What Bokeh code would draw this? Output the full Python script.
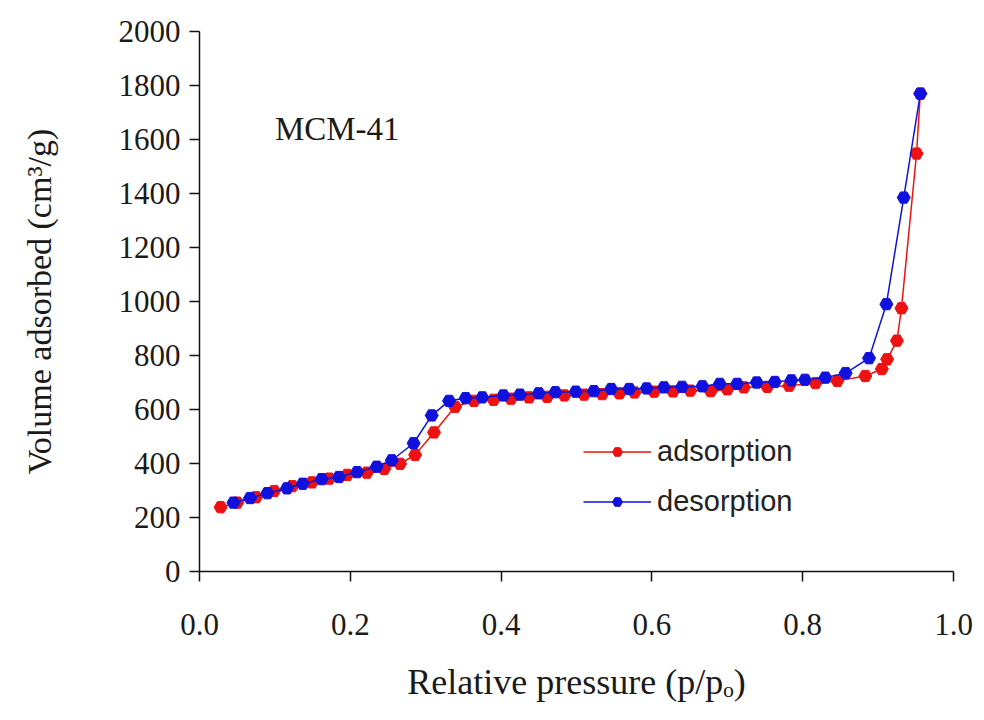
from bokeh.plotting import figure
from bokeh.models import Range1d, FixedTicker, Legend, LegendItem, Label
from bokeh.embed import file_html
from bokeh.resources import INLINE

# Adsorption branch (red)
ads_p = [0.028, 0.050, 0.075, 0.099, 0.123, 0.149, 0.172, 0.196, 0.222, 0.245,
         0.266, 0.286, 0.311, 0.339, 0.364, 0.390, 0.413, 0.437, 0.461, 0.484,
         0.510, 0.534, 0.557, 0.577, 0.603, 0.628, 0.651, 0.678, 0.700, 0.722,
         0.753, 0.782, 0.817, 0.846, 0.883, 0.905, 0.912, 0.925, 0.931, 0.951, 0.956]
ads_v = [238, 255, 275, 298, 316, 330, 344, 358, 366, 380,
         399, 432, 515, 610, 632, 636, 640, 645, 647, 652,
         655, 657, 660, 663, 666, 667, 670, 668, 675, 682,
         684, 688, 698, 706, 724, 750, 786, 855, 975, 1548, 1770]

# Desorption branch (blue)
des_p = [0.956, 0.934, 0.911, 0.888, 0.857, 0.830, 0.803, 0.785, 0.763, 0.739,
         0.713, 0.690, 0.667, 0.640, 0.616, 0.593, 0.570, 0.546, 0.523, 0.499,
         0.472, 0.450, 0.425, 0.403, 0.375, 0.353, 0.331, 0.308, 0.284, 0.255,
         0.235, 0.209, 0.185, 0.162, 0.137, 0.116, 0.090, 0.067, 0.045]
des_v = [1770, 1385, 990, 790, 735, 718, 710, 708, 702, 700,
         695, 695, 686, 684, 682, 678, 676, 676, 668, 666,
         664, 660, 655, 652, 645, 642, 632, 578, 475, 412,
         388, 368, 350, 342, 325, 308, 290, 272, 255]

x_ticks = [0.0, 0.2, 0.4, 0.6, 0.8, 1.0]
y_ticks = [0, 200, 400, 600, 800, 1000, 1200, 1400, 1600, 1800, 2000]

RED = "#ee1111"
BLUE = "#1111dd"
SERIF = "Liberation Serif"
SANS = "Liberation Sans"

p = figure(width=984, height=720, output_backend="svg", toolbar_location=None,
           x_range=Range1d(0, 1.0), y_range=Range1d(0, 2000),
           min_border_left=199, min_border_right=31, min_border_top=31,
           min_border_bottom=149)
p.outline_line_color = None
p.xgrid.visible = False
p.ygrid.visible = False
p.background_fill_color = "white"
p.border_fill_color = "white"

for ax in (p.xaxis[0], p.yaxis[0]):
    ax.axis_line_color = "#111111"
    ax.axis_line_width = 1.5
    ax.major_tick_line_color = "#111111"
    ax.major_tick_line_width = 1.5
    ax.major_tick_in = 0
    ax.major_tick_out = 10
    ax.minor_tick_line_color = None
    ax.major_label_text_font = SERIF
    ax.major_label_text_font_size = "31px"
    ax.major_label_text_color = "#1a1a1a"
    ax.axis_label_text_font = SERIF
    ax.axis_label_text_font_style = "normal"
    ax.axis_label_text_color = "#1a1a1a"

p.xaxis[0].ticker = FixedTicker(ticks=x_ticks)
p.yaxis[0].ticker = FixedTicker(ticks=y_ticks)
p.xaxis[0].major_label_overrides = {t: f"{t:.1f}" for t in x_ticks}
p.xaxis[0].major_label_standoff = 32
p.yaxis[0].major_label_standoff = 9
p.xaxis[0].axis_label = "Relative pressure (p/p\u2092)"
p.yaxis[0].axis_label = "Volume adsorbed (cm\u00b3/g)"
p.xaxis[0].axis_label_text_font_size = "36px"
p.yaxis[0].axis_label_text_font_size = "34px"
p.xaxis[0].axis_label_standoff = 24
p.yaxis[0].axis_label_standoff = 58

r_line = p.line(ads_p, ads_v, line_color=RED, line_width=1.5)
r_pts = p.scatter(ads_p, ads_v, marker="hex", size=13, fill_color=RED, line_color=RED)
b_line = p.line(des_p, des_v, line_color=BLUE, line_width=1.5)
b_pts = p.scatter(des_p, des_v, marker="hex", size=13, fill_color=BLUE, line_color=BLUE)

legend = Legend(items=[LegendItem(label="adsorption", renderers=[r_line, r_pts]),
                       LegendItem(label="desorption", renderers=[b_line, b_pts])],
                location=(384, 53), orientation="vertical",
                glyph_width=68, glyph_height=25, label_height=25,
                label_standoff=6, spacing=17, padding=0, margin=0,
                label_text_font=SANS, label_text_font_size="29px",
                label_text_color="#222222",
                border_line_alpha=0, background_fill_alpha=0)
p.add_layout(legend)

p.add_layout(Label(x=0.10, y=1640, text="MCM-41", text_font=SERIF,
                   text_font_size="33px", text_baseline="middle",
                   text_color="#1a1a1a"))

open("out.html", "w").write(file_html(p, INLINE))
